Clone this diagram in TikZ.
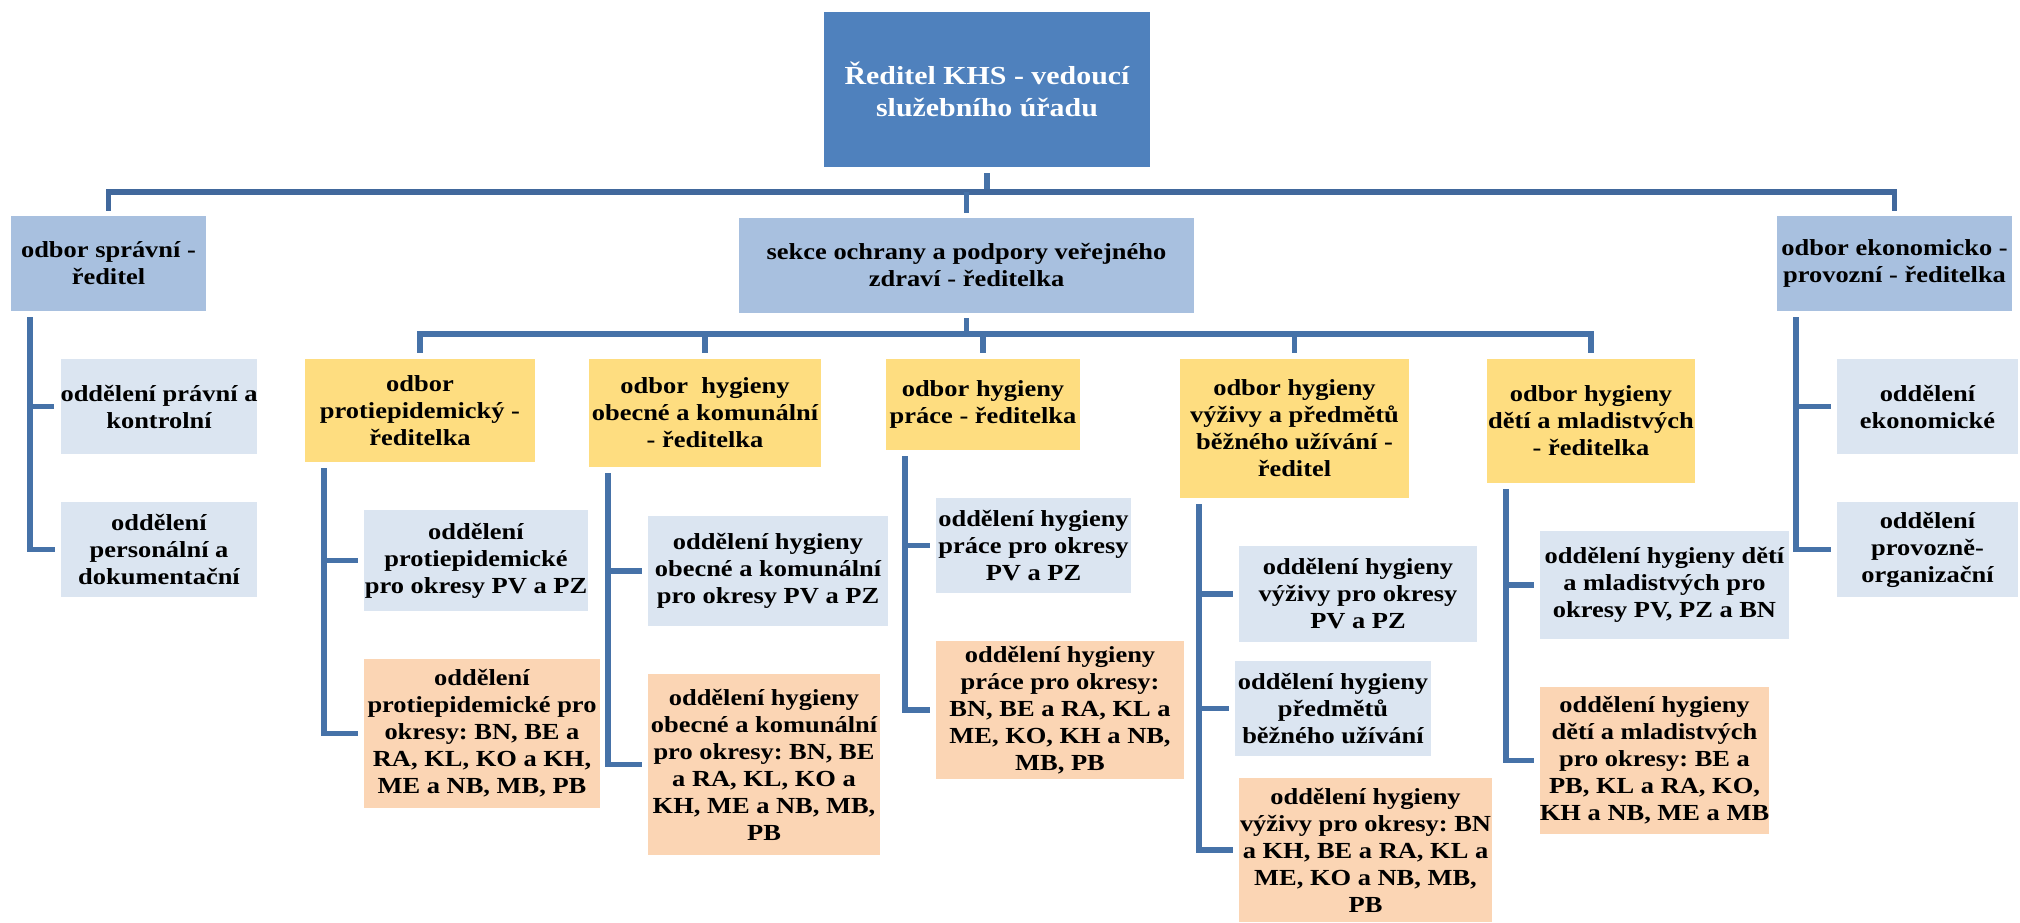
\documentclass[tikz,border=0pt]{standalone}
\usepackage{fontspec}
\setmainfont{Liberation Serif}[FakeStretch=1.15]
\usepackage{tikz}
\usetikzlibrary{calc}
\frenchspacing
\definecolor{khsblue}{HTML}{4F81BD}
\definecolor{unitblue}{HTML}{A8C0DF}
\definecolor{deptyellow}{HTML}{FEDD80}
\definecolor{subblue}{HTML}{DBE5F1}
\definecolor{suborange}{HTML}{FBD5B4}
\definecolor{linkblue}{HTML}{4672A8}
\definecolor{barblue}{HTML}{41689C}
\tikzset{%
    box/.style={%
        inner sep=0pt,
        align=center,
        font=\fontsize{23}{27}\selectfont\bfseries
    },
    wh/.style 2 args={minimum width=#1pt, minimum height=#2pt},
    chief/.style={box, fill=khsblue, text=white,
        font=\fontsize{26}{32}\selectfont\bfseries},
    unit/.style={box, fill=unitblue},
    dept/.style={box, fill=deptyellow},
    sub/.style={box, fill=subblue},
    subx/.style={box, fill=suborange},
    link/.style={draw=linkblue, line width=5.5pt}
}

\begin{document}
\begin{tikzpicture}[x=1pt, y=-1pt]
\useasboundingbox (0,0) rectangle (2020,923);

% vedeni
\node[chief, wh={326}{155}] (reditel) at (987,89.5)
    {Ředitel KHS - vedoucí\\služebního úřadu};
\node[unit, wh={195}{95}] (spravni) at (108.5,263.5)
    {odbor správní -\\ředitel};
\node[unit, wh={455}{95}] (sekce) at (966.5,265.5)
    {sekce ochrany a podpory veřejného\\zdraví - ředitelka};
\node[unit, wh={235}{95}] (ekon) at (1894.5,263.5)
    {odbor ekonomicko -\\provozní - ředitelka};

% odbory sekce
\node[dept, wh={230}{103}] (protiepid) at (420,410.5)
    {odbor\\protiepidemický -\\ředitelka};
\node[dept, wh={232}{108}] (obecne) at (705,413)
    {odbor~~hygieny\\obecné a komunální\\- ředitelka};
\node[dept, wh={194}{91}] (prace) at (983,404.5)
    {odbor hygieny\\práce - ředitelka};
\node[dept, wh={229}{139}] (vyziva) at (1294.5,428.5)
    {odbor hygieny\\výživy a předmětů\\běžného užívání -\\ředitel};
\node[dept, wh={208}{124}] (deti) at (1591,421)
    {odbor hygieny\\dětí a mladistvých\\- ředitelka};

% oddeleni
\node[sub, wh={196}{95}] (pravni) at (159,406.5)
    {oddělení právní a\\kontrolní};
\node[sub, wh={196}{95}] (personal) at (159,549.5)
    {oddělení\\personální a\\dokumentační};
\node[sub, wh={181}{95}] (ekonom) at (1927.5,406.5)
    {oddělení\\ekonomické};
\node[sub, wh={181}{95}] (provoz) at (1927.5,549.5)
    {oddělení\\provozně-\\organizační};

\node[sub, wh={224}{101}] (pe1) at (476,560.5)
    {oddělení\\protiepidemické\\pro okresy PV a PZ};
\node[subx, wh={236}{149}] (pe2) at (482,733.5)
    {oddělení\\protiepidemické pro\\okresy: BN, BE a\\RA, KL, KO a KH,\\ME a NB, MB, PB};
\node[sub, wh={240}{110}] (ob1) at (768,571)
    {oddělení hygieny\\obecné a komunální\\pro okresy PV a PZ};
\node[subx, wh={232}{181}] (ob2) at (764,764.5)
    {oddělení hygieny\\obecné a komunální\\pro okresy: BN, BE\\a RA, KL, KO a\\KH, ME a NB, MB,\\PB};
\node[sub, wh={195}{95}] (pr1) at (1033.5,545.5)
    {oddělení hygieny\\práce pro okresy\\PV a PZ};
\node[subx, wh={248}{138}] (pr2) at (1060,710)
    {oddělení hygieny\\práce pro okresy:\\BN, BE a RA, KL a\\ME, KO, KH a NB,\\MB, PB};
\node[sub, wh={238}{96}] (vy1) at (1358,594)
    {oddělení hygieny\\výživy pro okresy\\PV a PZ};
\node[sub, wh={196}{95}] (vy2) at (1333,708.5)
    {oddělení hygieny\\předmětů\\běžného užívání};
\node[subx, wh={253}{144}] (vy3) at (1365.5,850)
    {oddělení hygieny\\výživy pro okresy: BN\\a KH, BE a RA, KL a\\ME, KO a NB, MB,\\PB};
\node[sub, wh={249}{108}] (de1) at (1664.5,585)
    {oddělení hygieny dětí\\a mladistvých pro\\okresy PV, PZ a BN};
\node[subx, wh={229}{147}] (de2) at (1654.5,760.5)
    {oddělení hygieny\\dětí a mladistvých\\pro okresy: BE a\\PB, KL a RA, KO,\\KH a NB, ME a MB};

% spojnice
\coordinate (bar1) at (0,192);
\coordinate (bar2) at (0,334);
\draw[link, shorten <=6pt] (reditel.south) -- (reditel.south |- bar1);
\draw[link, draw=barblue, shorten <=5pt, shorten >=5pt]
    (spravni.north) |- (ekon.north |- bar1) -- (ekon.north);
\draw[link, shorten <=5pt] (sekce.north) -- (sekce.north |- bar1);
\draw[link, shorten <=5pt] (sekce.south) -- (sekce.south |- bar2);
\draw[link, shorten <=6pt, shorten >=6pt]
    (protiepid.north) |- (deti.north |- bar2) -- (deti.north);
\foreach \n in {obecne, prace, vyziva}
    \draw[link, shorten >=6pt] (\n.north |- bar2) -- (\n.north);

\foreach \p/\c in {spravni/pravni, spravni/personal, ekon/ekonom, ekon/provoz,
    protiepid/pe1, protiepid/pe2, obecne/ob1, obecne/ob2, prace/pr1, prace/pr2,
    vyziva/vy1, vyziva/vy2, vyziva/vy3, deti/de1, deti/de2}
    \draw[link, shorten >=6pt] ([xshift=19pt, yshift=-6pt]\p.south west) |- (\c.west);
\end{tikzpicture}
\end{document}
